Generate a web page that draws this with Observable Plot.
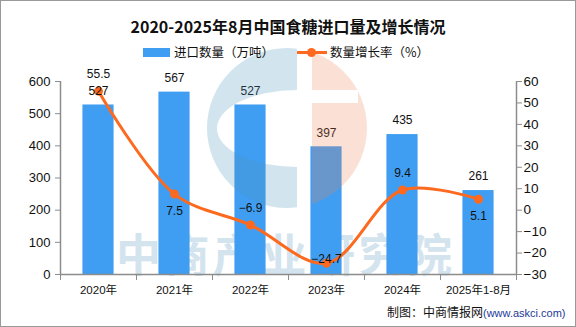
<!DOCTYPE html>
<html><head><meta charset="utf-8">
<script src="https://cdn.jsdelivr.net/npm/d3@7"></script>
<script src="https://cdn.jsdelivr.net/npm/@observablehq/plot@0.6"></script>
<style>
body{margin:0;background:#fff;font-family:"Liberation Sans","Noto Sans CJK SC",sans-serif;}
#wrap{position:relative;width:576px;height:327px;overflow:hidden;background:#fff;}
.abs{position:absolute;white-space:nowrap;}
#border{position:absolute;left:0;top:0;width:576px;height:327px;box-sizing:border-box;border:1px solid #999;pointer-events:none;}
</style></head>
<body>
<div id="wrap">
  <div class="abs" id="wm" style="left:116px;top:231px;height:44px;font:bold 45px/44px 'Noto Sans CJK SC';letter-spacing:3.5px;color:#d3e4ee;">中商产业研究院</div>
  <div id="chart" class="abs" style="left:0;top:0;"></div>
  <svg class="abs" style="left:0;top:0" width="576" height="327">
    <defs>
      <clipPath id="cl"><rect x="0" y="0" width="297" height="327"/></clipPath>
      <clipPath id="cr"><rect x="312" y="0" width="200" height="327"/></clipPath>
    </defs>
    <path clip-path="url(#cl)" fill="rgb(75,147,187)" fill-opacity="0.25" fill-rule="evenodd"
      d="M207,128a80,80 0 1,0 160,0a80,80 0 1,0 -160,0Z M217,128.5a80,38.5 0 1,0 160,0a80,38.5 0 1,0 -160,0Z"/>
    <path clip-path="url(#cr)" fill="rgb(240,130,80)" fill-opacity="0.24" fill-rule="evenodd"
      d="M207,128a80,80 0 1,0 160,0a80,80 0 1,0 -160,0Z M312,90h46v13h-46Z"/>
  </svg>
  <div class="abs" style="left:0;width:576px;top:16px;text-align:center;font:bold 16px 'Noto Sans CJK SC';color:#111;line-height:20px;">2020-2025年8月中国食糖进口量及增长情况</div>
  <div class="abs" style="left:143px;top:48px;width:27px;height:9px;background:#409ef2;"></div>
  <div class="abs" style="left:174px;top:44px;font:12.5px 'Noto Sans CJK SC';line-height:16px;color:#111;">进口数量（万吨）</div>
  <div class="abs" style="left:297px;top:51px;width:30px;height:3px;background:#fd6a1f;"></div>
  <div class="abs" style="left:307px;top:48px;width:9px;height:9px;border-radius:50%;background:#fd6a1f;"></div>
  <div class="abs" style="left:330px;top:44px;font:12.5px 'Noto Sans CJK SC';line-height:16px;color:#111;">数量增长率（%）</div>
  <div class="abs" style="left:387px;top:303px;line-height:17px;color:#111;"><span style="font:12px 'Noto Sans CJK SC';">制图：中商情报网</span><span style="font:11px 'Liberation Sans';color:#24399a;">(www.askci.com)</span></div>
  <div id="border"></div>
</div>
<script>
const categories = ["2020年","2021年","2022年","2023年","2024年","2025年1-8月"];
const imports = [527, 567, 527, 397, 435, 261];
const growth = [55.5, 7.5, -6.9, -24.7, 9.4, 5.1];
const growthLabelPlace = ["above","below","above","center","above","below"];
const leftTicks = [0, 100, 200, 300, 400, 500, 600];
const rightTicks = [-30, -20, -10, 0, 10, 20, 30, 40, 50, 60];

const rMin = -30, rMax = 60, lMax = 600;
const toLeft = r => (r - rMin) / (rMax - rMin) * lMax;
const fromLeft = v => Math.round(v / lMax * (rMax - rMin) + rMin);
const fmt = d3.format(".1f");
const intFmt = d3.format("d");

const rows = categories.map((c, i) => ({c, i, v: imports[i], g: growth[i], place: growthLabelPlace[i]}));
const blue = "#409ef2", orange = "#fd6a1f", axisGray = "#8c8c8c";

const chart = Plot.plot({
  width: 576, height: 327,
  marginTop: 81, marginBottom: 53, marginLeft: 60, marginRight: 60,
  style: {background: "transparent", color: "#111", fontFamily: "Liberation Sans, Noto Sans CJK SC, sans-serif"},
  x: {type: "linear", domain: [0, categories.length]},
  y: {domain: [0, lMax]},
  marks: [
    Plot.rectY(rows, {x1: d => d.i + 0.295, x2: d => d.i + 0.705, y1: 0, y2: "v", fill: blue}),
    Plot.ruleX([0, categories.length], {stroke: axisGray, strokeWidth: 1.5}),
    Plot.ruleY([0], {stroke: axisGray, strokeWidth: 1.5}),
    Plot.axisY(leftTicks, {anchor: "left", tickSize: 5, tickPadding: 5, stroke: axisGray, fontSize: 13, tickFormat: intFmt, label: null}),
    Plot.axisY(rightTicks.map(toLeft), {anchor: "right", tickSize: 5, tickPadding: 2, stroke: axisGray, fontSize: 13.5, tickFormat: d => intFmt(fromLeft(d)), label: null}),
    Plot.axisX(d3.range(categories.length + 1), {anchor: "bottom", tickSize: 6, stroke: axisGray, tickFormat: () => "", label: null}),
    Plot.axisX(d3.range(categories.length).map(i => i + 0.5), {anchor: "bottom", tickSize: 0, tickPadding: 11, fontSize: 11.5, tickFormat: d => categories[Math.floor(d)], label: null}),
    Plot.line(rows, {x: d => d.i + 0.5, y: d => toLeft(d.g), curve: "catmull-rom", stroke: orange, strokeWidth: 3}),
    Plot.dot(rows, {x: d => d.i + 0.5, y: d => toLeft(d.g), r: 4.5, fill: orange}),
    Plot.text(rows, {x: d => d.i + 0.5, y: "v", dy: -14, text: d => intFmt(d.v), fontSize: 12, fill: "#111"}),
    Plot.text(rows.filter(d => d.place === "above"), {x: d => d.i + 0.5, y: d => toLeft(d.g), dy: -17, text: d => fmt(d.g), fontSize: 12, fill: "#111"}),
    Plot.text(rows.filter(d => d.place === "below"), {x: d => d.i + 0.5, y: d => toLeft(d.g), dy: 17, text: d => fmt(d.g), fontSize: 12, fill: "#111"}),
    Plot.text(rows.filter(d => d.place === "center"), {x: d => d.i + 0.5, y: d => toLeft(d.g), dy: -4, text: d => fmt(d.g), fontSize: 12, fill: "#111"})
  ]
});
document.getElementById("chart").appendChild(chart);
</script>
</body></html>
